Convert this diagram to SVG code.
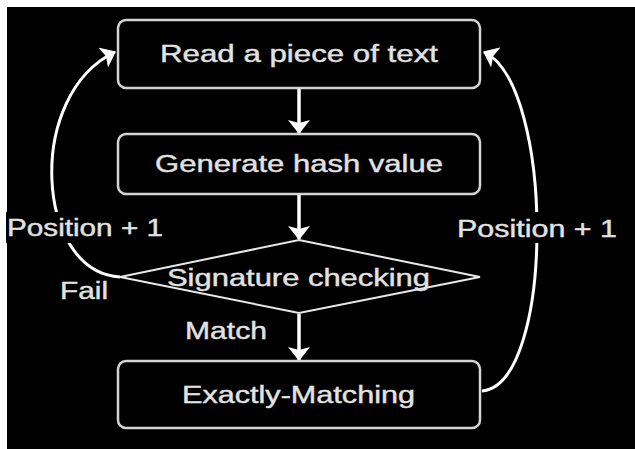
<svg xmlns="http://www.w3.org/2000/svg" width="635" height="449" viewBox="0 0 635 449">
  <style>
    .box { fill: #000; stroke: #d4d4d4; stroke-width: 2.5; }
    .dia { fill: #000; stroke: #e8e8e8; stroke-width: 2; }
    .lbl { font-family: "Liberation Sans", Arial, sans-serif; font-size: 23px; fill: #e2e2e2; stroke: #e2e2e2; stroke-width: 0.4; }
    .edge { fill: none; stroke: #fff; stroke-width: 3.5; }
    .curve { fill: none; stroke: #fff; stroke-width: 3; }
  </style>
  <defs>
    <marker id="head" viewBox="0 0 14 22" refX="13" refY="11" markerWidth="14" markerHeight="22" markerUnits="userSpaceOnUse" orient="auto">
      <path d="M0,0 L14,11 L0,22 L3,11 z" fill="#fff"/>
    </marker>
  </defs>

  <!-- page -->
  <rect x="0" y="0" width="635" height="449" fill="#fff"/>
  <rect x="7" y="7" width="628" height="442" fill="#000"/>

  <!-- connectors -->
  <g id="connectors">
    <line class="edge" x1="299" y1="89" x2="299" y2="133" marker-end="url(#head)"/>
    <line class="edge" x1="299" y1="195" x2="299" y2="239" marker-end="url(#head)"/>
    <line class="edge" x1="299" y1="314" x2="299" y2="360" marker-end="url(#head)"/>
    <path class="curve" d="M120,277 C35,272 25,95 115,52" marker-end="url(#head)"/>
    <path class="curve" d="M482,391 C555,385 555,85 484,52" marker-end="url(#head)"/>
  </g>

  <!-- edge labels -->
  <g id="label-left">
    <rect x="6" y="212" width="160" height="31" fill="#000"/>
    <text class="lbl" x="7" y="236" textLength="156" lengthAdjust="spacingAndGlyphs">Position + 1</text>
  </g>
  <g id="label-right">
    <rect x="455" y="212" width="164" height="31" fill="#000"/>
    <text class="lbl" x="457" y="237" textLength="160" lengthAdjust="spacingAndGlyphs">Position + 1</text>
  </g>
  <g id="label-fail">
    <text class="lbl" x="60" y="299" textLength="48" lengthAdjust="spacingAndGlyphs">Fail</text>
  </g>
  <g id="label-match">
    <text class="lbl" x="185" y="339" textLength="82" lengthAdjust="spacingAndGlyphs">Match</text>
  </g>

  <!-- nodes -->
  <g id="read-text">
    <rect class="box" x="118" y="20" width="362" height="68" rx="8"/>
    <text class="lbl" x="160" y="62" textLength="278" lengthAdjust="spacingAndGlyphs">Read a piece of text</text>
  </g>
  <g id="hash-value">
    <rect class="box" x="118" y="134" width="362" height="60" rx="8"/>
    <text class="lbl" x="155" y="172" textLength="288" lengthAdjust="spacingAndGlyphs">Generate hash value</text>
  </g>
  <g id="signature-check">
    <polygon class="dia" points="299,240 480,277 299,313 120,277"/>
    <text class="lbl" x="167" y="286" textLength="263" lengthAdjust="spacingAndGlyphs">Signature checking</text>
  </g>
  <g id="exact-match">
    <rect class="box" x="118" y="361" width="362" height="67" rx="8"/>
    <text class="lbl" x="182" y="403" textLength="233" lengthAdjust="spacingAndGlyphs">Exactly-Matching</text>
  </g>
</svg>
